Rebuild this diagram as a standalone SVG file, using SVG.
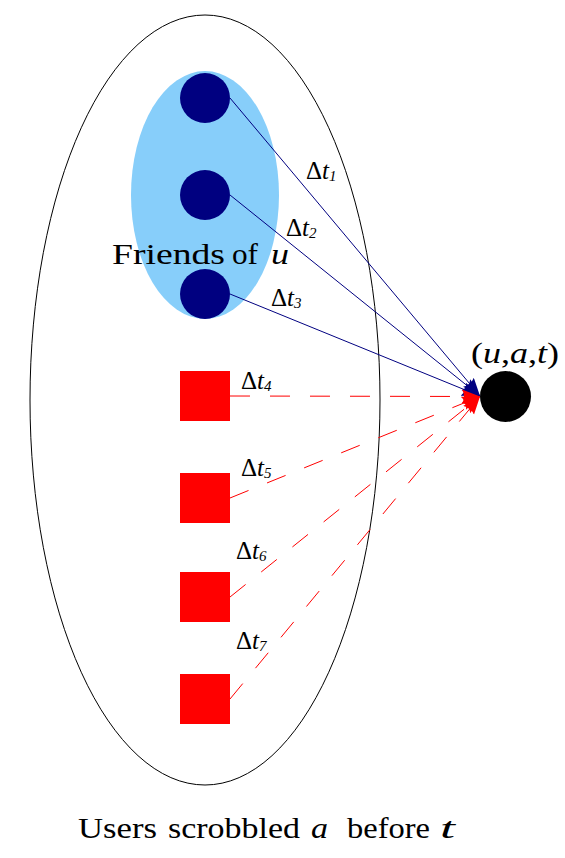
<svg xmlns="http://www.w3.org/2000/svg" width="565" height="858" viewBox="0 0 565 858" font-family="'Liberation Serif', 'Times New Roman', serif">
<style>
text{font-family:'Liberation Serif','Times New Roman',serif;fill:#000}
.it{font-style:italic}
.lbl{font-size:25px}
.sub{font-size:15px;font-style:italic}
.big{font-size:30px}
.blue{stroke:#000080;stroke-width:1;fill:none}
.red{stroke:#ff0000;stroke-width:1;fill:none;stroke-dasharray:20 20}
.friend{fill:#000080}
.user{fill:#ff0000}
</style>
<defs>
<marker id="ab" markerUnits="userSpaceOnUse" markerWidth="20" markerHeight="16" refX="18" refY="7" orient="auto">
<path d="M0,0 L18,7 L0,14 Q4,7 0,0 z" fill="#000080"/>
</marker>
<marker id="ar" markerUnits="userSpaceOnUse" markerWidth="20" markerHeight="16" refX="18" refY="7" orient="auto">
<path d="M0,0 L18,7 L0,14 Q4,7 0,0 z" fill="#ff0000"/>
</marker>
</defs>
<g id="users">
<ellipse cx="205" cy="400" rx="175" ry="385" fill="none" stroke="#000" stroke-width="1"/>
</g>
<g id="friends">
<ellipse cx="205" cy="195" rx="74" ry="124" fill="#87cefa"/>
<text class="big" x="112" y="264" textLength="113" lengthAdjust="spacingAndGlyphs">Friends</text>
<text class="big" x="232" y="264" textLength="26" lengthAdjust="spacingAndGlyphs">of</text>
<text class="big it" x="271" y="264" textLength="18" lengthAdjust="spacingAndGlyphs">u</text>
</g>
<g id="f1"><circle class="friend" cx="205" cy="98" r="25"/></g>
<g id="f2"><circle class="friend" cx="205" cy="195" r="25"/></g>
<g id="f3"><circle class="friend" cx="205" cy="294" r="25"/></g>
<g id="u4"><rect class="user" x="180" y="371" width="50" height="50"/></g>
<g id="u5"><rect class="user" x="180" y="473" width="50" height="50"/></g>
<g id="u6"><rect class="user" x="180" y="572" width="50" height="50"/></g>
<g id="u7"><rect class="user" x="180" y="674" width="50" height="50"/></g>
<g id="target">
<circle cx="505.5" cy="396.5" r="25.5" fill="#000"/>
<text class="big" x="471" y="363" textLength="88" lengthAdjust="spacingAndGlyphs">(<tspan class="it">u</tspan>,<tspan class="it">a</tspan>,<tspan class="it">t</tspan>)</text>
</g>
<g id="connectors">
<line class="blue" x1="230" y1="98" x2="480" y2="396" marker-end="url(#ab)"/>
<line class="blue" x1="230" y1="195" x2="480" y2="396" marker-end="url(#ab)"/>
<line class="blue" x1="230" y1="294" x2="480" y2="396" marker-end="url(#ab)"/>
<line class="red" x1="230" y1="396" x2="480" y2="396.5" marker-end="url(#ar)"/>
<line class="red" x1="230" y1="498" x2="480" y2="396.5" marker-end="url(#ar)"/>
<line class="red" x1="230" y1="597" x2="480" y2="396.5" marker-end="url(#ar)"/>
<line class="red" x1="230" y1="699" x2="480" y2="396.5" marker-end="url(#ar)"/>
</g>
<g id="labels">
<text class="lbl" x="306" y="179">Δ<tspan class="it">t</tspan><tspan class="sub" dy="2">1</tspan></text>
<text class="lbl" x="286" y="236">Δ<tspan class="it">t</tspan><tspan class="sub" dy="2">2</tspan></text>
<text class="lbl" x="271" y="306">Δ<tspan class="it">t</tspan><tspan class="sub" dy="2">3</tspan></text>
<text class="lbl" x="241" y="389">Δ<tspan class="it">t</tspan><tspan class="sub" dy="2">4</tspan></text>
<text class="lbl" x="241" y="476">Δ<tspan class="it">t</tspan><tspan class="sub" dy="2">5</tspan></text>
<text class="lbl" x="236" y="559">Δ<tspan class="it">t</tspan><tspan class="sub" dy="2">6</tspan></text>
<text class="lbl" x="236" y="649">Δ<tspan class="it">t</tspan><tspan class="sub" dy="2">7</tspan></text>
</g>
<g id="caption">
<text class="big" x="78" y="838" textLength="79" lengthAdjust="spacingAndGlyphs">Users</text>
<text class="big" x="168" y="838" textLength="132" lengthAdjust="spacingAndGlyphs">scrobbled</text>
<text class="big it" x="311" y="838" textLength="17" lengthAdjust="spacingAndGlyphs">a</text>
<text class="big" x="347" y="838" textLength="83" lengthAdjust="spacingAndGlyphs">before</text>
<text class="big it" x="440" y="838" textLength="15" lengthAdjust="spacingAndGlyphs">t</text>
</g>
</svg>
